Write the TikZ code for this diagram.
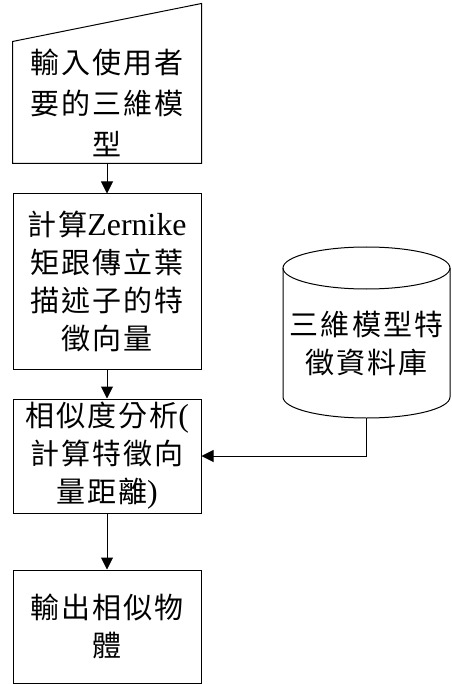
\documentclass[tikz,border=0pt]{standalone}
\usepackage{fontspec}
\setmainfont[LetterSpace=7]{Noto Sans CJK TC}
\newfontfamily\latinserif[Scale=1.1]{Liberation Serif}
\usetikzlibrary{arrows.meta,calc}
\begin{document}
\begin{tikzpicture}[x=1pt,y=-1pt,
  stepbox/.style={draw, line width=1pt, minimum width=188pt, inner sep=0pt,
                  align=center, font=\fontsize{29}{38}\selectfont},
  txt/.style={align=center, inner sep=0pt, font=\fontsize{29}{38}\selectfont},
  flow/.style={draw, line width=1pt, -{Triangle[length=12pt,width=12pt]}}]
\useasboundingbox (0,0) rectangle (451,684);

% manual input (slanted top edge)
\node[stepbox, draw=none, minimum height=121pt, font=\fontsize{29}{41}\selectfont]
  (b1) at (107,102.5) {輸入使用者\\要的三維模\\型};
\draw[line width=1pt] (b1.south west) -- (b1.south east)
  -- ($(b1.north east)+(0,-38)$) -- (b1.north west) -- cycle;

% process steps
\node[stepbox, minimum height=175pt] (b2) at (107,281.5)
  {計算{\latinserif Zernike}\\矩跟傳立葉\\描述子的特\\徵向量};
\node[stepbox, minimum height=114pt] (b3) at (107,456)
  {相似度分析{\latinserif (}\\計算特徵向\\量距離{\latinserif )}};
\node[stepbox, minimum height=113pt] (b4) at (107,626.5)
  {輸出相似物\\體};

% feature database (cylinder)
\draw[line width=1pt] (366.5,268) ellipse [x radius=83.5pt, y radius=21pt];
\draw[line width=1pt] (283,268) -- (283,397)
  arc[start angle=180, end angle=360, x radius=83.5pt, y radius=21pt] -- (450,268);
\node[txt] (db) at (366.5,343.5) {三維模型特\\徵資料庫};
\coordinate (dbout) at (366.5,418);

% connectors
\draw[flow] (b1.south) -- (b2.north);
\draw[flow] (b2.south) -- (b3.north);
\draw[flow] (b3.south) -- (b4.north);
\draw[flow] (dbout) |- (b3.east);
\end{tikzpicture}
\end{document}
